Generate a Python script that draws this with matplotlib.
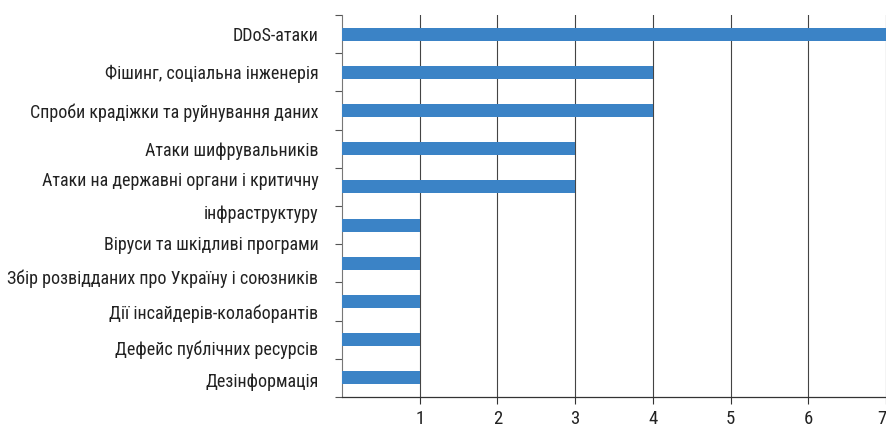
import matplotlib
matplotlib.use("Agg")
import matplotlib.pyplot as plt
from matplotlib import font_manager
from matplotlib.transforms import ScaledTranslation
import numpy as np

# categories top -> bottom, one bar each
categories = [
    "DDoS-атаки",
    "Фішинг, соціальна інженерія",
    "Спроби крадіжки та руйнування даних",
    "Атаки шифрувальників",
    "Атаки на державні органи і критичну\nінфраструктуру",
    "Віруси та шкідливі програми",
    "Збір розвідданих про Україну і союзників",
    "Дії інсайдерів-колаборантів",
    "Дефейс публічних ресурсів",
    "Дезінформація",
]
counts = [7, 4, 4, 3, 3, 1, 1, 1, 1, 1]
x_ticks = [1, 2, 3, 4, 5, 6, 7]

# in the source the labels run as one list, so the lower ones sit a bit
# below their bars (pixels, downward)
label_drop = [0, 0, 0, 0, 1, 18, 13, 10, 8, 2]

# condensed face if there is one, else Roboto
installed = {f.name for f in font_manager.fontManager.ttflist}
face = 'Roboto'
for name in ['Roboto Condensed', 'Liberation Sans Narrow', 'Open Sans Condensed', 'Noto Sans Condensed']:
    if name in installed:
        face = name
        break
plt.rcParams['font.family'] = [face, 'DejaVu Sans']

fig = plt.figure(figsize=(8.87, 4.28), dpi=100)
W, H = 887, 428
ax = fig.add_axes([342 / W, 31 / H, (887 - 342) / W, (397 - 15) / H])

y = np.arange(len(categories))
ax.barh(y, counts, height=0.34, color='#3b83c6', zorder=3)

ax.set_ylim(len(categories) - 0.5, -0.5)
ax.set_xlim(0, 7.01)

ax.set_yticks(y)
ax.set_yticklabels(categories, fontsize=13, color='#222222', linespacing=2.1)
ax.set_yticks(np.arange(len(categories) + 1) - 0.5, minor=True)
ax.tick_params(axis='y', which='major', length=0, pad=17)
ax.tick_params(axis='y', which='minor', length=5, width=0.8, color='#555555')
for lab, d in zip(ax.get_yticklabels(), label_drop):
    lab.set_transform(lab.get_transform() + ScaledTranslation(0, -d / 100, fig.dpi_scale_trans))

ax.set_xticks(x_ticks)
ax.set_xticklabels([str(v) for v in x_ticks], fontsize=13.5, color='#222222')
ax.get_xticklabels()[-1].set_horizontalalignment('right')
ax.tick_params(axis='x', length=5, width=0.8, color='#333333', pad=4)
ax.xaxis.grid(True, color='#444444', lw=0.8, zorder=1)

for s in ['top', 'right']:
    ax.spines[s].set_visible(False)
ax.spines['left'].set_color('#777777')
ax.spines['left'].set_linewidth(0.8)
ax.spines['bottom'].set_color('#333333')
ax.spines['bottom'].set_linewidth(0.9)

fig.savefig('out.png', dpi=100)
